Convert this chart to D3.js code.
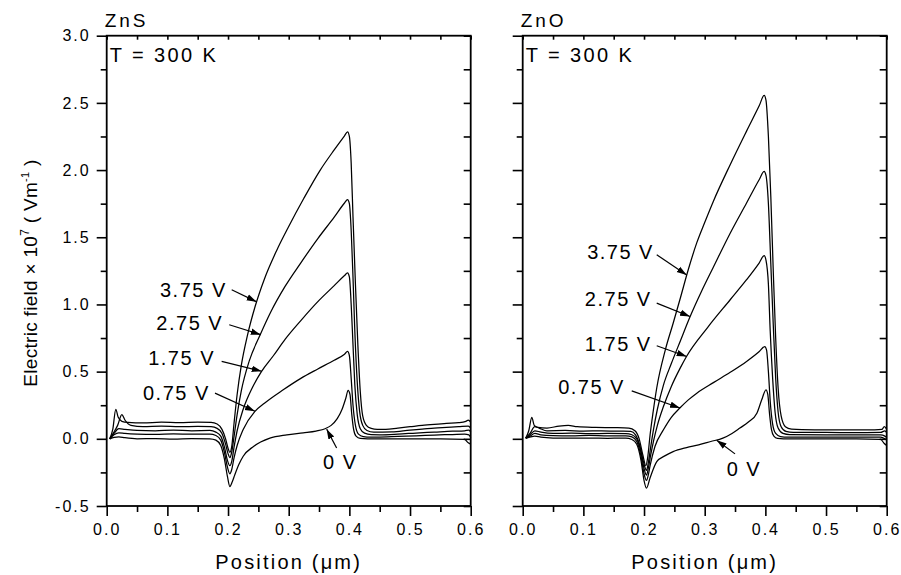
<!DOCTYPE html>
<html>
<head>
  <script src="https://d3js.org/d3.v7.min.js"></script>
  <title>Electric field ZnS / ZnO</title>
  <style>
    body { margin: 0; background: #fff; }
    svg text { font-family: "Liberation Sans", Arial, Helvetica, sans-serif; fill: #000; }
  </style>
</head>
<body>
<div id="chart"></div>
<script>
// ---- values: [position (um), field (x1e7 V/m)] ----
const voltages = ["0 V", "0.75 V", "1.75 V", "2.75 V", "3.75 V"];

const zns0 = [[0.005,0],[0.012,0.01],[0.02,0.015],[0.03,0.008],[0.05,0.0],[0.08,0.002],[0.11,-0.002],[0.14,0.002],[0.17,0.0],[0.18,-0.01],[0.188,-0.05],[0.194,-0.15],[0.199,-0.28],[0.203,-0.355],[0.207,-0.32],[0.211,-0.27],[0.218,-0.19],[0.225,-0.13],[0.242,-0.057],[0.269,0.005],[0.297,0.03],[0.324,0.045],[0.345,0.058],[0.36,0.075],[0.37,0.1],[0.38,0.15],[0.388,0.22],[0.394,0.3],[0.398,0.36],[0.401,0.33],[0.404,0.18],[0.407,0.07],[0.411,0.02],[0.418,0.003],[0.43,0.0],[0.46,0.0],[0.5,0.0],[0.55,0.0],[0.59,-0.005],[0.596,-0.03],[0.6,-0.04]];
const zns075 = [[0.005,0],[0.012,0.03],[0.02,0.045],[0.03,0.04],[0.05,0.035],[0.08,0.033],[0.11,0.037],[0.14,0.034],[0.17,0.035],[0.18,0.025],[0.188,-0.01],[0.194,-0.1],[0.199,-0.21],[0.203,-0.26],[0.206,-0.23],[0.21,-0.14],[0.215,-0.05],[0.225,0.07],[0.244,0.203],[0.26,0.265],[0.291,0.365],[0.32,0.45],[0.348,0.52],[0.375,0.585],[0.392,0.63],[0.397,0.65],[0.4,0.62],[0.403,0.45],[0.406,0.25],[0.41,0.1],[0.415,0.035],[0.423,0.017],[0.435,0.013],[0.45,0.013],[0.48,0.018],[0.51,0.022],[0.54,0.028],[0.57,0.032],[0.59,0.035],[0.597,0.03],[0.6,0.01]];
const zns175 = [[0.005,0],[0.012,0.04],[0.02,0.075],[0.03,0.07],[0.05,0.062],[0.08,0.06],[0.11,0.064],[0.14,0.06],[0.17,0.062],[0.18,0.05],[0.188,0.02],[0.194,-0.06],[0.199,-0.16],[0.203,-0.2],[0.206,-0.17],[0.21,-0.06],[0.215,0.06],[0.225,0.22],[0.24,0.38],[0.255,0.5],[0.275,0.62],[0.294,0.74],[0.32,0.88],[0.35,1.03],[0.375,1.14],[0.392,1.215],[0.397,1.235],[0.4,1.205],[0.403,1.0],[0.406,0.7],[0.409,0.4],[0.413,0.18],[0.418,0.075],[0.425,0.042],[0.436,0.031],[0.45,0.03],[0.48,0.035],[0.51,0.043],[0.54,0.05],[0.57,0.057],[0.59,0.06],[0.597,0.065],[0.6,0.05]];
const zns275 = [[0.005,0],[0.012,0.05],[0.018,0.1],[0.025,0.18],[0.03,0.14],[0.04,0.1],[0.06,0.09],[0.09,0.094],[0.12,0.09],[0.15,0.093],[0.172,0.09],[0.182,0.078],[0.19,0.04],[0.196,-0.04],[0.2,-0.11],[0.203,-0.14],[0.206,-0.1],[0.21,0.02],[0.215,0.18],[0.222,0.36],[0.235,0.58],[0.253,0.774],[0.27,0.94],[0.294,1.134],[0.32,1.31],[0.348,1.49],[0.375,1.65],[0.392,1.755],[0.397,1.78],[0.4,1.75],[0.403,1.55],[0.406,1.2],[0.409,0.8],[0.413,0.42],[0.417,0.2],[0.422,0.1],[0.429,0.062],[0.44,0.05],[0.47,0.052],[0.5,0.065],[0.52,0.072],[0.54,0.08],[0.56,0.085],[0.58,0.09],[0.596,0.095],[0.6,0.08]];
const zns375 = [[0.005,0],[0.01,0.07],[0.015,0.22],[0.019,0.16],[0.025,0.13],[0.035,0.122],[0.06,0.118],[0.09,0.124],[0.12,0.12],[0.15,0.124],[0.172,0.122],[0.182,0.11],[0.19,0.07],[0.196,0.0],[0.2,-0.07],[0.203,-0.1],[0.206,-0.06],[0.21,0.12],[0.215,0.33],[0.222,0.55],[0.232,0.77],[0.245,0.99],[0.26,1.19],[0.28,1.4],[0.3,1.58],[0.325,1.79],[0.352,2.0],[0.375,2.15],[0.392,2.255],[0.397,2.285],[0.4,2.25],[0.403,2.05],[0.406,1.65],[0.41,1.15],[0.414,0.7],[0.418,0.35],[0.422,0.17],[0.428,0.1],[0.436,0.077],[0.446,0.07],[0.46,0.07],[0.48,0.08],[0.5,0.09],[0.52,0.1],[0.54,0.108],[0.56,0.115],[0.58,0.12],[0.592,0.13],[0.596,0.14],[0.6,0.125]];

const zno0 = [[0.005,0.005],[0.01,0.01],[0.02,0.02],[0.03,0.012],[0.05,0.006],[0.08,0.005],[0.11,0.006],[0.14,0.004],[0.17,0.005],[0.18,-0.005],[0.188,-0.04],[0.195,-0.16],[0.2,-0.31],[0.204,-0.367],[0.21,-0.29],[0.221,-0.17],[0.235,-0.125],[0.248,-0.095],[0.27,-0.065],[0.29,-0.045],[0.31,-0.02],[0.33,0.005],[0.345,0.04],[0.358,0.08],[0.372,0.125],[0.386,0.19],[0.394,0.29],[0.401,0.365],[0.404,0.33],[0.407,0.18],[0.41,0.07],[0.414,0.02],[0.42,0.003],[0.43,0.0],[0.5,0.0],[0.55,0.0],[0.59,-0.005],[0.596,-0.035],[0.6,-0.05]];
const zno075 = [[0.005,0.005],[0.012,0.02],[0.02,0.04],[0.03,0.03],[0.05,0.024],[0.08,0.022],[0.11,0.025],[0.14,0.022],[0.17,0.022],[0.18,0.015],[0.188,-0.02],[0.195,-0.13],[0.2,-0.26],[0.204,-0.31],[0.207,-0.27],[0.21,-0.2],[0.218,-0.057],[0.232,0.067],[0.245,0.16],[0.259,0.229],[0.273,0.29],[0.287,0.34],[0.315,0.42],[0.342,0.495],[0.369,0.576],[0.39,0.65],[0.399,0.687],[0.402,0.66],[0.405,0.5],[0.408,0.28],[0.412,0.11],[0.417,0.04],[0.425,0.017],[0.437,0.013],[0.5,0.013],[0.55,0.012],[0.59,0.012],[0.597,0.0],[0.6,-0.01]];
const zno175 = [[0.005,0.005],[0.012,0.03],[0.02,0.06],[0.03,0.05],[0.05,0.04],[0.08,0.042],[0.11,0.038],[0.14,0.04],[0.17,0.038],[0.18,0.03],[0.188,0.0],[0.195,-0.1],[0.2,-0.22],[0.204,-0.27],[0.207,-0.22],[0.211,-0.12],[0.216,-0.01],[0.222,0.1],[0.232,0.24],[0.245,0.39],[0.26,0.53],[0.27,0.613],[0.305,0.83],[0.342,1.035],[0.369,1.184],[0.39,1.31],[0.398,1.363],[0.401,1.33],[0.405,1.15],[0.408,0.8],[0.412,0.45],[0.416,0.2],[0.421,0.08],[0.429,0.04],[0.44,0.031],[0.5,0.03],[0.55,0.03],[0.59,0.03],[0.597,0.02],[0.6,0.01]];
const zno275 = [[0.005,0.005],[0.012,0.04],[0.02,0.09],[0.027,0.08],[0.04,0.06],[0.07,0.062],[0.1,0.058],[0.13,0.06],[0.16,0.057],[0.178,0.055],[0.186,0.03],[0.193,-0.05],[0.199,-0.17],[0.204,-0.235],[0.207,-0.18],[0.211,-0.06],[0.216,0.08],[0.222,0.22],[0.232,0.4],[0.245,0.56],[0.26,0.73],[0.276,0.91],[0.295,1.1],[0.314,1.275],[0.342,1.53],[0.369,1.755],[0.39,1.93],[0.398,1.99],[0.401,1.96],[0.405,1.75],[0.409,1.3],[0.413,0.85],[0.417,0.45],[0.421,0.2],[0.426,0.09],[0.434,0.055],[0.446,0.048],[0.5,0.047],[0.55,0.046],[0.59,0.047],[0.597,0.06],[0.6,0.045]];
const zno375 = [[0.005,0.005],[0.01,0.06],[0.015,0.16],[0.019,0.1],[0.025,0.085],[0.04,0.08],[0.06,0.095],[0.075,0.1],[0.09,0.09],[0.12,0.085],[0.15,0.083],[0.175,0.08],[0.185,0.06],[0.192,0.0],[0.198,-0.12],[0.203,-0.2],[0.206,-0.14],[0.21,0.03],[0.215,0.2],[0.221,0.38],[0.235,0.66],[0.248,0.86],[0.26,1.05],[0.273,1.26],[0.287,1.46],[0.3,1.61],[0.314,1.765],[0.342,2.04],[0.369,2.29],[0.39,2.48],[0.398,2.556],[0.401,2.52],[0.405,2.25],[0.409,1.8],[0.413,1.25],[0.417,0.75],[0.421,0.38],[0.426,0.17],[0.433,0.09],[0.443,0.072],[0.46,0.068],[0.5,0.067],[0.55,0.066],[0.58,0.067],[0.592,0.07],[0.596,0.09],[0.6,0.07]];

// label anchor (data coords), arrow start and arrow tip (data coords)
const znsLabels = [
  { text: "3.75 V", at: [0.198, 1.109], anchor: "end", from: [0.206, 1.109], to: [0.247, 1.02] },
  { text: "2.75 V", at: [0.192, 0.861], anchor: "end", from: [0.202, 0.849], to: [0.254, 0.775] },
  { text: "1.75 V", at: [0.1785, 0.601], anchor: "end", from: [0.1895, 0.576], to: [0.2555, 0.503] },
  { text: "0.75 V", at: [0.17, 0.3425], anchor: "end", from: [0.1785, 0.34], to: [0.2444, 0.205] },
  { text: "0 V", at: [0.3565, -0.169], anchor: "start", from: [0.379, -0.069], to: [0.3626, 0.072] }
];
const znoLabels = [
  { text: "3.75 V", at: [0.2164, 1.392], anchor: "end", from: [0.2209, 1.37], to: [0.2703, 1.22] },
  { text: "2.75 V", at: [0.2126, 1.042], anchor: "end", from: [0.2209, 1.01], to: [0.2758, 0.91] },
  { text: "1.75 V", at: [0.2126, 0.707], anchor: "end", from: [0.2209, 0.6925], to: [0.2703, 0.613] },
  { text: "0.75 V", at: [0.1686, 0.387], anchor: "end", from: [0.1797, 0.357], to: [0.2593, 0.229] },
  { text: "0 V", at: [0.3362, -0.223], anchor: "start", from: [0.35, -0.112], to: [0.3198, -0.01] }
];

const xMajor = [0, 0.1, 0.2, 0.3, 0.4, 0.5, 0.6];
const xMinor = [0.05, 0.15, 0.25, 0.35, 0.45, 0.55];
const yMajor = [-0.5, 0, 0.5, 1.0, 1.5, 2.0, 2.5, 3.0];
const yMinor = [-0.25, 0.25, 0.75, 1.25, 1.75, 2.25, 2.75];

const panels = [
  { title: "ZnS", left: 106.7, curves: [zns0, zns075, zns175, zns275, zns375], labels: znsLabels, yLabels: true },
  { title: "ZnO", left: 522.7, curves: [zno0, zno075, zno175, zno275, zno375], labels: znoLabels, yLabels: false }
];

const W = 901, H = 575;
const plotW = 364, plotTop = 35.7, plotBottom = 506;

const svg = d3.select("#chart").append("svg")
  .attr("width", W).attr("height", H);

svg.append("defs").append("marker")
  .attr("id", "arrow")
  .attr("markerUnits", "userSpaceOnUse")
  .attr("markerWidth", 10).attr("markerHeight", 8)
  .attr("refX", 10).attr("refY", 4)
  .attr("orient", "auto")
  .append("path").attr("d", "M0,0.8 L10,4 L0,7.2 z").attr("fill", "#000");

const y = d3.scaleLinear().domain([-0.5, 3]).range([plotBottom, plotTop]);
const fmt = d => d.toFixed(1);

panels.forEach(p => {
  const x = d3.scaleLinear().domain([0, 0.6]).range([p.left, p.left + plotW]);
  const g = svg.append("g");

  // bottom axis: major + minor, ticks outward
  g.append("g").attr("transform", `translate(0,${plotBottom})`)
    .call(d3.axisBottom(x).tickValues(xMajor).tickSize(10).tickPadding(8).tickFormat(fmt));
  g.append("g").attr("transform", `translate(0,${plotBottom})`)
    .call(d3.axisBottom(x).tickValues(xMinor).tickSize(6).tickFormat(""));
  // top axis: small inward ticks
  g.append("g").attr("transform", `translate(0,${plotTop})`)
    .call(d3.axisTop(x).tickValues(xMajor.concat(xMinor)).tickSize(-4).tickFormat(""));

  // left axis: ticks outward
  g.append("g").attr("transform", `translate(${p.left},0)`)
    .call(d3.axisLeft(y).tickValues(yMajor).tickSize(10).tickPadding(6)
      .tickFormat(p.yLabels ? fmt : ""));
  g.append("g").attr("transform", `translate(${p.left},0)`)
    .call(d3.axisLeft(y).tickValues(yMinor).tickSize(6).tickFormat(""));
  // right axis: inward ticks
  g.append("g").attr("transform", `translate(${p.left + plotW},0)`)
    .call(d3.axisRight(y).tickValues(yMajor.concat(yMinor)).tickSize(-7).tickFormat(""));

  g.selectAll(".domain").remove();
  g.selectAll(".tick line").attr("stroke", "#000").attr("stroke-width", 1.6);
  g.selectAll(".tick text")
    .style("font-size", "16px").style("letter-spacing", "2px")
    .style("font-family", "'Liberation Sans', Arial, sans-serif");

  // frame
  g.append("rect")
    .attr("x", p.left).attr("y", plotTop)
    .attr("width", plotW).attr("height", plotBottom - plotTop)
    .attr("fill", "none").attr("stroke", "#000").attr("stroke-width", 1.8);

  // curves
  const line = d3.line().x(d => x(d[0])).y(d => y(d[1])).curve(d3.curveMonotoneX);
  g.selectAll(".curve").data(p.curves).join("path")
    .attr("class", "curve")
    .attr("d", line)
    .attr("fill", "none").attr("stroke", "#000").attr("stroke-width", 1.25);

  // annotations
  p.labels.forEach(l => {
    g.append("line")
      .attr("x1", x(l.from[0])).attr("y1", y(l.from[1]))
      .attr("x2", x(l.to[0])).attr("y2", y(l.to[1]))
      .attr("stroke", "#000").attr("stroke-width", 1.2)
      .attr("marker-end", "url(#arrow)");
    g.append("text")
      .attr("x", x(l.at[0])).attr("y", y(l.at[1]))
      .attr("dy", "0.36em")
      .attr("text-anchor", l.anchor)
      .style("font-size", "20px").style("letter-spacing", "1.5px")
      .text(l.text);
  });

  // panel title and temperature
  svg.append("text")
    .attr("x", p.left - 2).attr("y", 27)
    .style("font-size", "19px").style("letter-spacing", "3px")
    .text(p.title);
  svg.append("text")
    .attr("x", p.left + 3).attr("y", 62)
    .style("font-size", "20px").style("letter-spacing", "2.4px")
    .text("T = 300 K");

  // x axis title
  svg.append("text")
    .attr("x", p.left + plotW / 2).attr("y", 569)
    .attr("text-anchor", "middle")
    .style("font-size", "20px").style("letter-spacing", "2.2px")
    .text("Position (\u03bcm)");
});

// y axis title
const yt = svg.append("text")
  .attr("transform", "translate(37,273) rotate(-90)")
  .attr("text-anchor", "middle")
  .style("font-size", "19px").style("letter-spacing", "0.3px");
yt.append("tspan").text("Electric field \u00d7 10");
yt.append("tspan").attr("dy", -8).style("font-size", "12px").text("7");
yt.append("tspan").attr("dy", 8).text(" ( Vm");
yt.append("tspan").attr("dy", -8).style("font-size", "11px").text("-1");
yt.append("tspan").attr("dy", 8).text(" )");
</script>
</body>
</html>
